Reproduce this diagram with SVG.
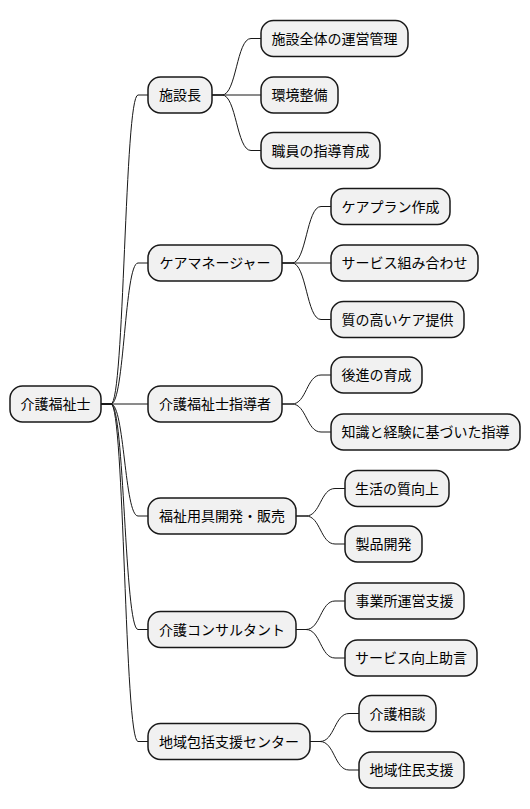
<svg xmlns="http://www.w3.org/2000/svg" width="530" height="809" viewBox="0 0 530 809">
<style>
.n rect{fill:#F1F1F1;stroke:#181818;stroke-width:1.5}
.n text{font-family:"Noto Sans CJK JP","Noto Sans",sans-serif;font-size:14px;fill:#000;text-anchor:middle}
.c path{fill:none;stroke:#181818;stroke-width:1}
</style>
<rect width="530" height="809" fill="#FFFFFF"/>
<g class="c" id="connectors">
<path d="M101,404 L111,404 C124.5,404 124.5,95 138,95 L148,95"/>
<path d="M101,404 L111,404 C124.5,404 124.5,263 138,263 L148,263"/>
<path d="M101,404 L148,404"/>
<path d="M101,404 L111,404 C124.5,404 124.5,516 138,516 L148,516"/>
<path d="M101,404 L111,404 C124.5,404 124.5,629.5 138,629.5 L148,629.5"/>
<path d="M101,404 L111,404 C124.5,404 124.5,741.5 138,741.5 L148,741.5"/>
<path d="M212,95 L222,95 C236.5,95 236.5,38.5 251,38.5 L261,38.5"/>
<path d="M212,95 L261,95"/>
<path d="M212,95 L222,95 C236.5,95 236.5,150.5 251,150.5 L261,150.5"/>
<path d="M282,263 L292,263 C306.5,263 306.5,206.5 321,206.5 L331,206.5"/>
<path d="M282,263 L331,263"/>
<path d="M282,263 L292,263 C306.5,263 306.5,319.5 321,319.5 L331,319.5"/>
<path d="M282,404 L292,404 C306.5,404 306.5,375 321,375 L331,375"/>
<path d="M282,404 L292,404 C306.5,404 306.5,432 321,432 L331,432"/>
<path d="M296,516 L306,516 C320.5,516 320.5,488.5 335,488.5 L345,488.5"/>
<path d="M296,516 L306,516 C320.5,516 320.5,544 335,544 L345,544"/>
<path d="M296,629.5 L306,629.5 C320.5,629.5 320.5,601 335,601 L345,601"/>
<path d="M296,629.5 L306,629.5 C320.5,629.5 320.5,658 335,658 L345,658"/>
<path d="M310,741.5 L320,741.5 C334.5,741.5 334.5,713.5 349,713.5 L359,713.5"/>
<path d="M310,741.5 L320,741.5 C334.5,741.5 334.5,770 349,770 L359,770"/>
</g>
<g class="n" id="root"><rect x="10" y="386" width="91" height="36" rx="12.5"/><text x="55.5" y="409">介護福祉士</text></g>
<g class="n" id="n1"><rect x="148" y="77" width="64" height="36" rx="12.5"/><text x="180" y="100">施設長</text></g>
<g class="n" id="n1a"><rect x="261" y="20.5" width="147" height="36" rx="12.5"/><text x="334.5" y="43.5">施設全体の運営管理</text></g>
<g class="n" id="n1b"><rect x="261" y="77" width="77" height="36" rx="12.5"/><text x="299.5" y="100">環境整備</text></g>
<g class="n" id="n1c"><rect x="261" y="132.5" width="119" height="36" rx="12.5"/><text x="320.5" y="155.5">職員の指導育成</text></g>
<g class="n" id="n2"><rect x="148" y="245" width="134" height="36" rx="12.5"/><text x="215" y="268">ケアマネージャー</text></g>
<g class="n" id="n2a"><rect x="331" y="188.5" width="119" height="36" rx="12.5"/><text x="390.5" y="211.5">ケアプラン作成</text></g>
<g class="n" id="n2b"><rect x="331" y="245" width="147" height="36" rx="12.5"/><text x="404.5" y="268">サービス組み合わせ</text></g>
<g class="n" id="n2c"><rect x="331" y="301.5" width="133" height="36" rx="12.5"/><text x="397.5" y="324.5">質の高いケア提供</text></g>
<g class="n" id="n3"><rect x="148" y="386" width="134" height="36" rx="12.5"/><text x="215" y="409">介護福祉士指導者</text></g>
<g class="n" id="n3a"><rect x="331" y="357" width="91" height="36" rx="12.5"/><text x="376.5" y="380">後進の育成</text></g>
<g class="n" id="n3b"><rect x="331" y="414" width="189" height="36" rx="12.5"/><text x="425.5" y="437">知識と経験に基づいた指導</text></g>
<g class="n" id="n4"><rect x="148" y="498" width="148" height="36" rx="12.5"/><text x="222" y="521">福祉用具開発・販売</text></g>
<g class="n" id="n4a"><rect x="345" y="470.5" width="104" height="36" rx="12.5"/><text x="397" y="493.5">生活の質向上</text></g>
<g class="n" id="n4b"><rect x="345" y="526" width="77" height="36" rx="12.5"/><text x="383.5" y="549">製品開発</text></g>
<g class="n" id="n5"><rect x="148" y="611.5" width="148" height="36" rx="12.5"/><text x="222" y="634.5">介護コンサルタント</text></g>
<g class="n" id="n5a"><rect x="345" y="583" width="119" height="36" rx="12.5"/><text x="404.5" y="606">事業所運営支援</text></g>
<g class="n" id="n5b"><rect x="345" y="640" width="132" height="36" rx="12.5"/><text x="411" y="663">サービス向上助言</text></g>
<g class="n" id="n6"><rect x="148" y="723.5" width="162" height="36" rx="12.5"/><text x="229" y="746.5">地域包括支援センター</text></g>
<g class="n" id="n6a"><rect x="359" y="695.5" width="77" height="36" rx="12.5"/><text x="397.5" y="718.5">介護相談</text></g>
<g class="n" id="n6b"><rect x="359" y="752" width="105" height="36" rx="12.5"/><text x="411.5" y="775">地域住民支援</text></g>
</svg>
